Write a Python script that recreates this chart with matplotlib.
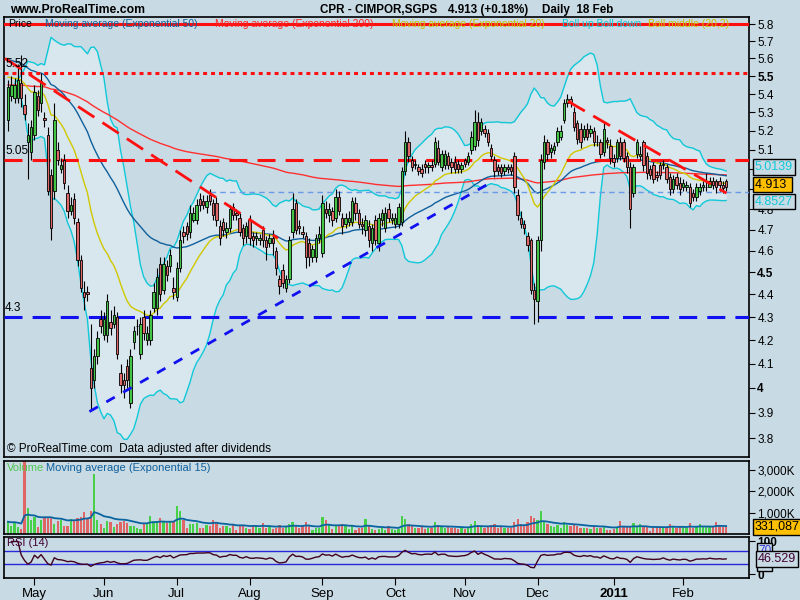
import numpy as np
import pandas as pd
import matplotlib
matplotlib.use("Agg")
import matplotlib.pyplot as plt
from matplotlib.ticker import NullLocator
import matplotlib.transforms as mtrans

plt.rcParams['font.family'] = ['Liberation Sans', 'DejaVu Sans']

# ---------------- data ----------------
dates = pd.bdate_range('2010-04-21', '2011-02-18')

opens = [
    5.26, 5.39, 5.38, 5.38, 5.46, 5.34, 5.14, 5.09, 5.18, 5.39,
    5.35, 5.27, 5.18, 4.97, 4.89, 5.10, 5.00, 5.05, 4.88, 4.79,
    4.85, 4.74, 4.56, 4.41, 4.41, 4.08, 4.03, 4.13, 4.29, 4.22,
    4.22, 4.28, 4.27, 4.30, 4.06, 4.03, 4.09, 3.94, 4.19, 4.26,
    4.14, 4.30, 4.20, 4.20, 4.34, 4.34, 4.54, 4.42, 4.53, 4.53,
    4.43, 4.39, 4.52, 4.69, 4.72, 4.69, 4.75, 4.75, 4.85, 4.84,
    4.81, 4.87, 4.83, 4.83, 4.72, 4.74, 4.69, 4.71, 4.81, 4.78,
    4.76, 4.71, 4.67, 4.75, 4.67, 4.66, 4.65, 4.70, 4.65, 4.64,
    4.66, 4.60, 4.47, 4.51, 4.43, 4.47, 4.69, 4.83, 4.72, 4.69,
    4.67, 4.64, 4.57, 4.57, 4.66, 4.59, 4.80, 4.77, 4.79, 4.76,
    4.86, 4.76, 4.73, 4.74, 4.74, 4.83, 4.78, 4.73, 4.70, 4.72,
    4.64, 4.75, 4.64, 4.75, 4.71, 4.80, 4.75, 4.73, 4.73, 4.74,
    4.99, 5.14, 5.05, 5.02, 5.01, 5.00, 5.03, 5.01, 5.02, 5.03,
    5.11, 5.01, 5.02, 5.07, 5.04, 5.04, 5.03, 5.00, 5.05, 5.04,
    5.10, 5.12, 5.25, 5.20, 5.21, 5.19, 5.11, 5.05, 5.01, 5.01,
    4.99, 5.01, 5.01, 5.07, 4.87, 4.76, 4.73, 4.67, 4.65, 4.42,
    4.37, 4.65, 5.04, 5.14, 5.09, 5.10, 5.14, 5.17, 5.26, 5.35,
    5.37, 5.30, 5.24, 5.21, 5.17, 5.21, 5.19, 5.20, 5.14, 5.14,
    5.09, 5.15, 5.12, 5.06, 5.06, 5.14, 5.14, 5.07, 5.01, 4.88,
    5.08, 5.07, 5.14, 5.07, 5.00, 5.02, 4.97, 5.02, 5.02, 5.01,
    4.96, 4.90, 4.96, 4.93, 4.91, 4.91, 4.91, 4.88, 4.86, 4.89,
    4.91, 4.91, 4.91, 4.94, 4.94, 4.94, 4.92, 4.94]

closes = [
    5.44, 5.45, 5.45, 5.48, 5.38, 5.29, 5.18, 5.22, 5.41, 5.31,
    5.47, 5.26, 4.89, 4.71, 5.26, 5.05, 5.02, 4.93, 4.79, 4.82,
    4.76, 4.56, 4.43, 4.39, 4.40, 4.00, 4.13, 4.21, 4.26, 4.29,
    4.37, 4.25, 4.31, 4.14, 4.01, 4.01, 4.03, 4.13, 4.24, 4.26,
    4.27, 4.23, 4.23, 4.31, 4.41, 4.48, 4.40, 4.54, 4.49, 4.58,
    4.41, 4.52, 4.65, 4.67, 4.68, 4.78, 4.78, 4.82, 4.82, 4.82,
    4.84, 4.84, 4.77, 4.75, 4.66, 4.70, 4.71, 4.80, 4.77, 4.77,
    4.69, 4.66, 4.72, 4.66, 4.65, 4.67, 4.66, 4.65, 4.62, 4.66,
    4.64, 4.52, 4.44, 4.45, 4.47, 4.65, 4.80, 4.70, 4.71, 4.68,
    4.57, 4.57, 4.61, 4.66, 4.68, 4.83, 4.78, 4.80, 4.75, 4.86,
    4.79, 4.72, 4.76, 4.76, 4.84, 4.78, 4.73, 4.72, 4.75, 4.65,
    4.71, 4.65, 4.76, 4.78, 4.78, 4.76, 4.76, 4.76, 4.81, 4.99,
    5.14, 5.07, 5.01, 5.03, 4.99, 4.98, 5.01, 5.02, 5.01, 5.14,
    5.04, 5.08, 5.08, 5.02, 5.01, 5.00, 5.00, 5.02, 5.03, 5.07,
    5.17, 5.25, 5.15, 5.25, 5.19, 5.14, 5.07, 4.99, 4.99, 4.98,
    5.01, 5.00, 4.99, 4.91, 4.77, 4.73, 4.71, 4.63, 4.42, 4.38,
    4.65, 5.05, 5.14, 5.08, 5.11, 5.12, 5.20, 5.20, 5.35, 5.37,
    5.35, 5.22, 5.16, 5.14, 5.21, 5.17, 5.21, 5.14, 5.14, 5.08,
    5.21, 5.14, 5.06, 5.04, 5.14, 5.07, 5.06, 5.01, 4.80, 5.01,
    5.14, 5.08, 5.02, 4.98, 4.97, 4.95, 4.96, 4.97, 5.03, 4.95,
    4.90, 4.95, 4.92, 4.90, 4.93, 4.92, 4.83, 4.86, 4.91, 4.91,
    4.92, 4.91, 4.94, 4.92, 4.91, 4.92, 4.904, 4.913]

highs = [
    5.48, 5.50, 5.49, 5.57, 5.62, 5.40, 5.24, 5.26, 5.45, 5.42,
    5.52, 5.30, 5.22, 5.00, 5.35, 5.14, 5.06, 5.08, 4.92, 4.86,
    4.88, 4.76, 4.58, 4.46, 4.44, 4.27, 4.16, 4.24, 4.33, 4.32,
    4.40, 4.33, 4.35, 4.32, 4.10, 4.06, 4.12, 4.16, 4.26, 4.29,
    4.30, 4.33, 4.26, 4.33, 4.45, 4.52, 4.57, 4.57, 4.56, 4.61,
    4.48, 4.55, 4.70, 4.72, 4.74, 4.82, 4.81, 4.85, 4.88, 4.87,
    4.87, 4.90, 4.85, 4.86, 4.75, 4.76, 4.74, 4.82, 4.83, 4.80,
    4.78, 4.73, 4.74, 4.77, 4.69, 4.69, 4.68, 4.72, 4.67, 4.68,
    4.70, 4.62, 4.49, 4.54, 4.49, 4.67, 4.88, 4.85, 4.75, 4.72,
    4.69, 4.66, 4.63, 4.68, 4.72, 4.87, 4.84, 4.83, 4.81, 4.90,
    4.89, 4.78, 4.78, 4.79, 4.86, 4.86, 4.80, 4.76, 4.77, 4.75,
    4.73, 4.77, 4.78, 4.80, 4.81, 4.83, 4.78, 4.78, 4.83, 5.01,
    5.20, 5.17, 5.07, 5.05, 5.03, 5.03, 5.05, 5.04, 5.05, 5.17,
    5.15, 5.10, 5.10, 5.09, 5.06, 5.07, 5.05, 5.04, 5.06, 5.09,
    5.20, 5.31, 5.30, 5.27, 5.23, 5.21, 5.13, 5.07, 5.03, 5.03,
    5.03, 5.03, 5.03, 5.09, 4.90, 4.79, 4.75, 4.69, 4.66, 4.45,
    4.67, 5.08, 5.18, 5.16, 5.13, 5.14, 5.22, 5.23, 5.37, 5.40,
    5.39, 5.33, 5.26, 5.24, 5.23, 5.24, 5.23, 5.22, 5.18, 5.16,
    5.24, 5.17, 5.16, 5.08, 5.16, 5.17, 5.16, 5.09, 5.04, 5.03,
    5.16, 5.12, 5.15, 5.09, 5.02, 5.04, 4.99, 5.04, 5.05, 5.03,
    4.98, 4.97, 4.98, 4.96, 4.95, 4.94, 4.93, 4.90, 4.93, 4.93,
    4.94, 4.98, 4.96, 4.96, 4.95, 4.96, 4.94, 4.95]

lows = [
    5.20, 5.36, 5.35, 5.35, 5.33, 5.26, 4.95, 5.05, 5.15, 5.28,
    5.30, 5.22, 4.87, 4.65, 4.85, 5.02, 4.98, 4.90, 4.76, 4.77,
    4.73, 4.53, 4.41, 4.33, 4.37, 3.91, 4.00, 4.10, 4.23, 4.20,
    4.19, 4.22, 4.25, 4.12, 3.98, 3.96, 4.00, 3.92, 4.16, 4.22,
    4.12, 4.20, 4.18, 4.18, 4.32, 4.31, 4.37, 4.40, 4.46, 4.50,
    4.38, 4.37, 4.50, 4.64, 4.65, 4.66, 4.74, 4.73, 4.79, 4.80,
    4.78, 4.82, 4.75, 4.72, 4.63, 4.67, 4.66, 4.69, 4.75, 4.75,
    4.67, 4.63, 4.64, 4.63, 4.62, 4.63, 4.63, 4.62, 4.56, 4.62,
    4.58, 4.49, 4.40, 4.43, 4.41, 4.45, 4.66, 4.68, 4.68, 4.66,
    4.52, 4.53, 4.55, 4.55, 4.64, 4.57, 4.76, 4.74, 4.72, 4.74,
    4.77, 4.68, 4.71, 4.72, 4.72, 4.75, 4.71, 4.68, 4.67, 4.62,
    4.60, 4.63, 4.60, 4.72, 4.69, 4.74, 4.73, 4.71, 4.71, 4.72,
    4.97, 5.04, 4.99, 5.00, 4.97, 4.96, 4.98, 4.98, 4.99, 5.01,
    5.02, 4.99, 5.00, 5.00, 4.98, 4.98, 4.98, 4.98, 5.01, 5.02,
    5.08, 5.10, 5.12, 5.18, 5.17, 5.12, 5.05, 4.96, 4.97, 4.96,
    4.97, 4.98, 4.97, 4.88, 4.75, 4.71, 4.68, 4.60, 4.40, 4.27,
    4.28, 4.60, 5.00, 5.05, 5.06, 5.08, 5.12, 5.15, 5.24, 5.33,
    5.33, 5.20, 5.13, 5.11, 5.15, 5.15, 5.17, 5.12, 5.12, 5.06,
    5.07, 5.11, 5.03, 5.01, 5.04, 5.05, 5.04, 4.98, 4.71, 4.86,
    5.06, 5.05, 4.99, 4.95, 4.95, 4.93, 4.94, 4.95, 5.00, 4.93,
    4.87, 4.88, 4.90, 4.87, 4.89, 4.89, 4.81, 4.84, 4.84, 4.87,
    4.89, 4.89, 4.91, 4.90, 4.88, 4.89, 4.88, 4.89]

# volume in millions of shares
volumes = [
    0.57, 0.39, 0.57, 0.34, 0.23, 3.50, 1.19, 0.65, 0.81, 0.34,
    0.65, 0.76, 0.81, 0.76, 0.45, 0.61, 0.65, 0.37, 0.37, 0.70,
    0.62, 0.73, 0.81, 1.04, 0.76, 1.07, 2.79, 0.65, 0.45, 0.26,
    0.61, 0.57, 0.34, 0.47, 0.57, 0.62, 0.52, 0.37, 0.37, 0.26,
    0.23, 0.45, 0.50, 0.84, 0.61, 0.62, 0.73, 0.57, 0.50, 0.57,
    0.61, 1.32, 1.07, 0.65, 0.29, 0.47, 0.47, 0.50, 0.29, 0.29,
    0.42, 0.39, 0.65, 0.57, 0.29, 0.37, 0.37, 0.26, 0.42, 0.19,
    0.37, 0.42, 0.29, 0.23, 0.42, 0.37, 0.29, 0.50, 0.29, 0.37,
    0.23, 0.29, 0.42, 0.29, 0.37, 0.47, 0.54, 0.37, 0.29, 0.37,
    0.57, 0.37, 0.19, 0.26, 0.29, 0.81, 0.65, 0.42, 0.23, 0.37,
    0.42, 0.47, 0.37, 0.23, 0.37, 0.19, 0.29, 0.29, 0.70, 0.37,
    0.23, 0.19, 0.23, 0.29, 0.19, 0.37, 0.23, 0.19, 0.23, 0.85,
    0.70, 0.45, 0.35, 0.30, 0.28, 0.32, 0.25, 0.30, 0.27, 0.55,
    0.40, 0.33, 0.30, 0.35, 0.28, 0.30, 0.25, 0.28, 0.24, 0.30,
    0.45, 0.60, 0.42, 0.35, 0.30, 0.35, 0.40, 0.45, 0.30, 0.35,
    0.28, 0.30, 0.26, 0.55, 0.70, 0.45, 0.40, 0.55, 0.85, 0.75,
    0.65, 1.05, 0.60, 0.45, 0.35, 0.33, 0.40, 0.30, 0.55, 0.40,
    0.35, 0.42, 0.38, 0.30, 0.28, 0.30, 0.25, 0.33, 0.28, 0.30,
    0.34, 0.19, 0.19, 0.23, 0.34, 0.62, 0.31, 0.34, 0.31, 0.50,
    0.31, 0.46, 0.31, 0.34, 0.15, 0.31, 0.31, 0.34, 0.26, 0.31,
    0.46, 0.38, 0.26, 0.34, 0.34, 0.26, 0.53, 0.26, 0.34, 0.46,
    0.34, 0.34, 0.34, 0.31, 0.57, 0.43, 0.34, 0.331]

# seeds for the moving averages (their values at the left edge of the chart)
ema50_seed = 5.60
ema200_seed = 5.45
ema20_seed = 5.50

# user drawn levels / trend lines
level_dotted = 5.52
level_red = 5.05
level_blue = 4.3
level_top = 5.8
level_ref = 4.885
red_trend1 = ([-0.9, 81.6], [5.60, 4.66])
red_trend2 = ([169.2, 217.1], [5.36, 4.88])
blue_trend = ([24.6, 147.1], [3.904, 4.945])

price_ticks = [3.8, 3.9, 4.0, 4.1, 4.2, 4.3, 4.4, 4.5, 4.6, 4.7, 4.8, 4.9,
               5.0, 5.1, 5.2, 5.3, 5.4, 5.5, 5.6, 5.7, 5.8]
# '4.9' and '5' sit under the value boxes in the reference, so they are not shown
price_tick_labels = ['3.8', '3.9', '4', '4.1', '4.2', '4.3', '4.4', '4.5', '4.6',
                     '4.7', '4.8', '', '', '5.1', '5.2', '5.3', '5.4', '5.5',
                     '5.6', '5.7', '5.8']
bold_price_labels = ['4', '4.5', '5', '5.5']
month_labels = ['May', 'Jun', 'Jul', 'Aug', 'Sep', 'Oct', 'Nov', 'Dec', '2011', 'Feb']
vol_ticks = [1, 2, 3]
vol_tick_labels = ['1,000K', '2,000K', '3,000K']

label_bb_up = '5.0139'
label_last = '4.913'
label_bb_dn = '4.8527'
label_vol = '331,087'
label_rsi = '46.529'

# ---------------- styling ----------------
BG = '#C8DAE4'
BAND = '#D8E6EE'
GREEN = '#44C444'
RED = '#E06868'
CYAN = '#10C8D8'
EMA50C = '#10609C'
EMA200C = '#FF3030'
EMA20C = '#D0C800'

W, H = 800, 600
fig = plt.figure(figsize=(8, 6), dpi=100, facecolor=BG)


def box(top, bottom, left=3.5, right=749):
    return [left / W, 1 - bottom / H, (right - left) / W, (bottom - top) / H]


ax = fig.add_axes(box(17, 457))
axv = fig.add_axes(box(461, 534))
axr = fig.add_axes(box(537, 578))

o = np.array(opens); c = np.array(closes); hi = np.array(highs); lo = np.array(lows)
v = np.array(volumes)
n = len(c)
idx = np.arange(n)
up = c >= o
XL = (-1.36, 223.9)

for a in (ax, axv, axr):
    a.set_facecolor(BG)
    a.set_xlim(*XL)
    for s in a.spines.values():
        s.set_color('black')
        s.set_linewidth(1.2)

# ---------------- indicators ----------------
cs = pd.Series(c)


def ema_seeded(series, span, seed):
    s = pd.concat([pd.Series([seed]), series], ignore_index=True)
    return s.ewm(span=span, adjust=False).mean().iloc[1:].to_numpy()


ema50 = ema_seeded(cs, 50, ema50_seed)
ema200 = ema_seeded(cs, 200, ema200_seed)
ema20 = ema_seeded(cs, 20, ema20_seed)
mid = cs.rolling(20, min_periods=3).mean()
sd = cs.rolling(20, min_periods=3).std(ddof=0)
bb_up = (mid + 2 * sd).to_numpy()
bb_dn = (mid - 2 * sd).to_numpy()

# ---------------- main panel ----------------
ax.set_yscale('log')
ax.set_ylim(3.727, 5.842)

ok = ~np.isnan(bb_up)
ax.fill_between(idx[ok], bb_dn[ok], bb_up[ok], color=BAND, zorder=1, lw=0)
ax.plot(idx[ok], bb_up[ok], color=CYAN, lw=1.0, zorder=2)
ax.plot(idx[ok], bb_dn[ok], color=CYAN, lw=1.0, zorder=2)
ax.plot(idx, ema200, color=EMA200C, lw=1.0, zorder=2)
ax.plot(idx, ema50, color=EMA50C, lw=1.0, zorder=2)
ax.plot(idx, ema20, color=EMA20C, lw=1.0, zorder=2)

ax.axhline(level_top, color='#FF1010', lw=2.2, zorder=3)
ax.axhline(level_dotted, color='#FF1010', lw=2.2, ls=(0, (1.3, 1.3)), zorder=3)
ax.axhline(level_red, color='#FF1010', lw=2.2, ls=(0, (5.9, 3.3)), zorder=3)
ax.axhline(level_blue, color='#1010F0', lw=2.2, ls=(0, (5.9, 3.3)), zorder=3)
ax.plot([61, XL[1]], [level_ref, level_ref], color='#6A9AE8', lw=1.0,
        ls=(0, (4, 3)), zorder=3)

ax.vlines(idx, lo, hi, color='black', lw=0.8, zorder=5)
ax.bar(idx, np.abs(c - o), bottom=np.minimum(o, c), width=0.72,
       color=np.where(up, GREEN, RED), edgecolor='black', linewidth=0.6, zorder=6)

ax.plot(*red_trend1, color='#FF1010', lw=2.0, ls=(0, (7, 3.5)), zorder=7)
ax.plot(*red_trend2, color='#FF1010', lw=2.0, ls=(0, (7, 3.5)), zorder=7)
ax.plot(*blue_trend, color='#1010F0', lw=2.0, ls=(0, (3.5, 3.5)), zorder=7)

for lev, txt in ((level_dotted, '5.52'), (level_red, '5.05'), (level_blue, '4.3')):
    ax.text(-0.9, lev * 1.003, txt, fontsize=8.5, va='bottom', ha='left', zorder=8)

ax.yaxis.tick_right()
ax.yaxis.set_minor_locator(NullLocator())
ax.set_yticks(price_ticks)
tl = ax.set_yticklabels(price_tick_labels)
for t in tl:
    if t.get_text() in bold_price_labels:
        t.set_fontweight('bold')
ax.tick_params(axis='y', which='both', direction='out', length=4, pad=2, labelsize=8.5)
ax.set_xticks([])

tr = mtrans.blended_transform_factory(ax.transAxes, ax.transData)
ax.text(1.008, float(label_bb_up), label_bb_up, transform=tr, fontsize=9, color=CYAN,
        va='center', ha='left', zorder=20, clip_on=False,
        bbox=dict(boxstyle='square,pad=0.15', fc=BG, ec='black', lw=1))
ax.text(1.008, float(label_bb_dn) * 0.997, label_bb_dn, transform=tr, fontsize=9, color=CYAN,
        va='center', ha='left', zorder=20, clip_on=False,
        bbox=dict(boxstyle='square,pad=0.15', fc=BG, ec='black', lw=1))
ax.text(1.008, float(label_last) * 1.002, label_last + ' ', transform=tr, fontsize=9,
        color='black', va='center', ha='left', zorder=21, clip_on=False,
        bbox=dict(boxstyle='square,pad=0.15', fc='#FFC000', ec='black', lw=1))

ax.text(0.005, 0.004, '\u00a9 ProRealTime.com  Data adjusted after dividends',
        transform=ax.transAxes, fontsize=8.5, va='bottom', ha='left', zorder=9)

# ---------------- volume panel ----------------
axv.set_ylim(0, 3.4)
axv.bar(idx, v, width=0.68, color=np.where(up, '#48D048', '#E06666'), lw=0, zorder=2)
vema = pd.Series(v).ewm(span=15, adjust=False).mean().to_numpy()
axv.plot(idx, vema, color='#0A64A0', lw=1.3, zorder=3)
axv.yaxis.tick_right()
axv.set_yticks(vol_ticks)
axv.set_yticklabels(vol_tick_labels)
axv.tick_params(axis='y', direction='out', length=4, pad=2, labelsize=8.5)
axv.set_xticks([])
trv = mtrans.blended_transform_factory(axv.transAxes, axv.transData)
axv.text(1.008, v[-1], label_vol, transform=trv, fontsize=9, va='center', ha='left',
         clip_on=False, zorder=20,
         bbox=dict(boxstyle='square,pad=0.15', fc='#FFC000', ec='black', lw=1))
axv.text(0.005, 0.97, 'Volume', transform=axv.transAxes, color='#50C850', fontsize=8,
         va='top', ha='left')
axv.text(0.057, 0.97, 'Moving average (Exponential 15)', transform=axv.transAxes,
         color='#10609C', fontsize=8, va='top', ha='left')

# ---------------- RSI panel ----------------
d = cs.diff()
gain = d.clip(lower=0).ewm(alpha=1 / 14, adjust=False).mean()
loss = (-d.clip(upper=0)).ewm(alpha=1 / 14, adjust=False).mean()
rsi = (100 - 100 / (1 + gain / loss)).to_numpy()
axr.set_ylim(-12.3, 113.8)
axr.axhline(70, color='#2828D8', lw=1.0, zorder=2)
axr.axhline(30, color='#2828D8', lw=1.0, zorder=2)
axr.plot(idx, rsi, color='#400020', lw=1.0, zorder=3)
axr.yaxis.tick_right()
axr.set_yticks([0, 100])
rl = axr.set_yticklabels(['0', '100'])
for t in rl:
    t.set_fontweight('bold')
axr.tick_params(axis='y', direction='out', length=4, pad=2, labelsize=8.5)
trr = mtrans.blended_transform_factory(axr.transAxes, axr.transData)
axr.text(1.012, 30, '30', transform=trr, fontsize=8.5, color='#3838E0', va='center',
         ha='left', clip_on=False, zorder=18,
         bbox=dict(boxstyle='square,pad=0.1', fc=BG, ec='black', lw=1))
axr.text(1.012, 72, '70', transform=trr, fontsize=8.5, color='#3838E0', va='center',
         ha='left', clip_on=False, zorder=19,
         bbox=dict(boxstyle='square,pad=0.1', fc=BG, ec='black', lw=1))
axr.text(1.012, 46.5, label_rsi, transform=trr, fontsize=9, color='#400030', va='center',
         ha='left', clip_on=False, zorder=20,
         bbox=dict(boxstyle='square,pad=0.15', fc=BG, ec='black', lw=1))
axr.text(0.005, 0.98, 'RSI (14)', transform=axr.transAxes, color='#400030', fontsize=8,
         va='top', ha='left')

month_start = [i for i in range(1, n) if dates[i].month != dates[i - 1].month]
axr.set_xticks(month_start)
xl = axr.set_xticklabels(month_labels)
for t in xl:
    if t.get_text() == '2011':
        t.set_fontweight('bold')
        t.set_fontsize(10)
axr.tick_params(axis='x', direction='out', length=5, pad=2, labelsize=9.5)

# ---------------- header / legend ----------------
fig.text(10 / W, 1 - 10 / H, 'www.ProRealTime.com', fontsize=8.8, fontweight='bold',
         va='center', ha='left')
fig.text(320 / W, 1 - 10 / H, 'CPR - CIMPOR,SGPS', fontsize=8.4, fontweight='bold',
         va='center', ha='left')
fig.text(448 / W, 1 - 10 / H, '4.913 (+0.18%)', fontsize=8.4, fontweight='bold',
         va='center', ha='left')
fig.text(542 / W, 1 - 10 / H, 'Daily  18 Feb', fontsize=8.4, fontweight='bold',
         va='center', ha='left')

legend_items = [(8, 'Price', 'black'),
                (45, 'Moving average (Exponential 50)', EMA50C),
                (215, 'Moving average (Exponential 200)', '#FF2020'),
                (392, 'Moving average (Exponential 20)', '#C8C000'),
                (562, 'Boll up Boll down', CYAN),
                (648, 'Boll middle (20,2)', '#C8C000')]
for xpx, txt, col in legend_items:
    fig.text(xpx / W, 1 - 24 / H, txt, fontsize=7.5, color=col, va='center', ha='left')

fig.savefig('out.png', dpi=100, facecolor=BG)
